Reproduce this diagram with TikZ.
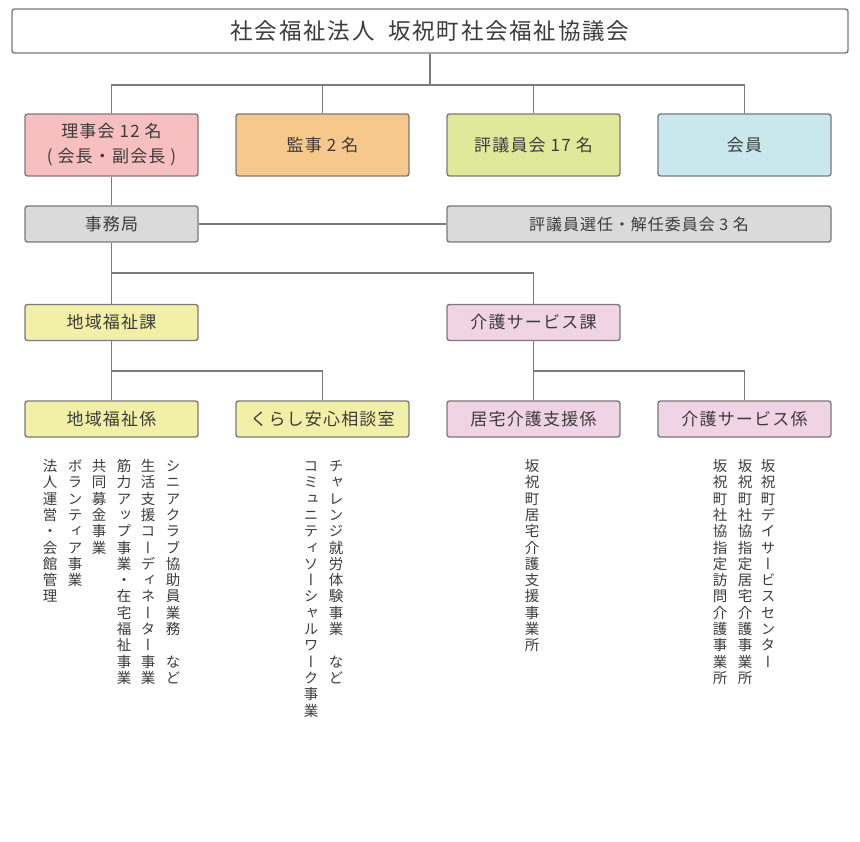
\documentclass[tikz,border=0pt]{standalone}
\usepackage{fontspec}
\setmainfont{Noto Sans CJK JP}
\newfontfamily\vfont[RawFeature=+vert]{Noto Sans CJK JP}
\definecolor{pinkA}{HTML}{F7BFBF}
\definecolor{orangeA}{HTML}{F7C88C}
\definecolor{greenA}{HTML}{E0E99A}
\definecolor{blueA}{HTML}{C8E8EE}
\definecolor{grayA}{HTML}{DADADA}
\definecolor{yellowA}{HTML}{F2F0A6}
\definecolor{lavA}{HTML}{F0D3E4}
\definecolor{bordA}{HTML}{7A7A7A}
\definecolor{txtA}{HTML}{3C3C3C}
\ExplSyntaxOn
\NewDocumentCommand\vstack{m}{\vbox{\offinterlineskip \tl_map_inline:nn{#1}{\hbox_to_wd:nn{16pt}{\hss\rule[-4pt]{0pt}{16.3pt}##1\hss}}}}
\ExplSyntaxOff
\begin{document}
\begin{tikzpicture}[x=1pt,y=-1pt,
  box/.style={draw=bordA,line width=1.4pt,rounded corners=2.5pt,inner sep=0pt,
    minimum width=173pt,minimum height=36pt,text=txtA,align=center,
    font=\fontsize{17}{25}\selectfont\addfontfeatures{LetterSpace=7}},
  tall/.style={minimum height=62pt},
  conn/.style={draw=bordA,line width=1.5pt},
  vcol/.style={anchor=north,inner sep=0pt,text=txtA,font=\fontsize{14.5}{16.3}\vfont}]
\useasboundingbox[fill=white] (0,0) rectangle (860,842);
% title
\node[box,minimum width=836pt,minimum height=44pt,
  font=\fontsize{22.5}{26}\selectfont\addfontfeatures{LetterSpace=8}] (title) at (430,31) {社会福祉法人\hspace{0.6em}坂祝町社会福祉協議会};
% row 1
\node[box,tall,fill=pinkA] (riji) at (111.5,145) {理事会 12 名\\( 会長・副会長 )};
\node[box,tall,fill=orangeA] (kanji) at (322.5,145) {監事 2 名};
\node[box,tall,fill=greenA] (hyogi) at (533.5,145) {評議員会 17 名};
\node[box,tall,fill=blueA] (kaiin) at (744.5,145) {会員};
% row 2
\node[box,fill=grayA] (jimu) at (111.5,224) {事務局};
\node[box,fill=grayA,minimum width=384pt,
  font=\fontsize{16}{20}\selectfont\addfontfeatures{LetterSpace=6}] (senin) at (639,224) {評議員選任・解任委員会 3 名};
% row 3
\node[box,fill=yellowA] (chiikika) at (111.5,322.5) {地域福祉課};
\node[box,fill=lavA] (kaigoka) at (533.5,322.5) {介護サービス課};
% row 4
\node[box,fill=yellowA] (chiikikei) at (111.5,419) {地域福祉係};
\node[box,fill=yellowA] (kurashi) at (322.5,419) {くらし安心相談室};
\node[box,fill=lavA] (kyotaku) at (533.5,419) {居宅介護支援係};
\node[box,fill=lavA] (kaigokei) at (744.5,419) {介護サービス係};
% bus coordinates
\coordinate (bus1) at (430,85);
\coordinate (bus2) at (112,273);
\coordinate (bus3) at (112,371);
\coordinate (bus4) at (534,371);
% connectors
\draw[conn] (title.south) -- (bus1);
\draw[conn] (riji.north) -- (riji.north |- bus1) -- (kaiin.north |- bus1) -- (kaiin.north);
\draw[conn] (kanji.north) -- (kanji.north |- bus1);
\draw[conn] (hyogi.north) -- (hyogi.north |- bus1);
\draw[conn] (riji.south) -- (jimu.north);
\draw[conn] (jimu.east) -- (senin.west);
\draw[conn] (jimu.south) -- (chiikika.north);
\draw[conn] (bus2) -| (kaigoka.north);
\draw[conn] (chiikika.south) -- (chiikikei.north);
\draw[conn] (bus3) -| (kurashi.north);
\draw[conn] (kaigoka.south) -- (kyotaku.north);
\draw[conn] (bus4) -| (kaigokei.north);
% vertical texts
\node[vcol] (v1) at (173,459) {\vstack{シニアクラブ協助員業務　など}};
\node[vcol] (v2) at (148,459) {\vstack{生活支援コーディネーター事業}};
\node[vcol] (v3) at (124,459) {\vstack{筋力アップ事業・在宅福祉事業}};
\node[vcol] (v4) at (99,459) {\vstack{共同募金事業}};
\node[vcol] (v5) at (75,459) {\vstack{ボランティア事業}};
\node[vcol] (v6) at (50,459) {\vstack{法人運営・会館管理}};
\node[vcol] (v7) at (336,459) {\vstack{チャレンジ就労体験事業　など}};
\node[vcol] (v8) at (311,459) {\vstack{コミュニティソーシャルワーク事業}};
\node[vcol] (v9) at (532,459) {\vstack{坂祝町居宅介護支援事業所}};
\node[vcol] (v10) at (768,459) {\vstack{坂祝町デイサービスセンター}};
\node[vcol] (v11) at (745,459) {\vstack{坂祝町社協指定居宅介護事業所}};
\node[vcol] (v12) at (720,459) {\vstack{坂祝町社協指定訪問介護事業所}};
\end{tikzpicture}
\end{document}
